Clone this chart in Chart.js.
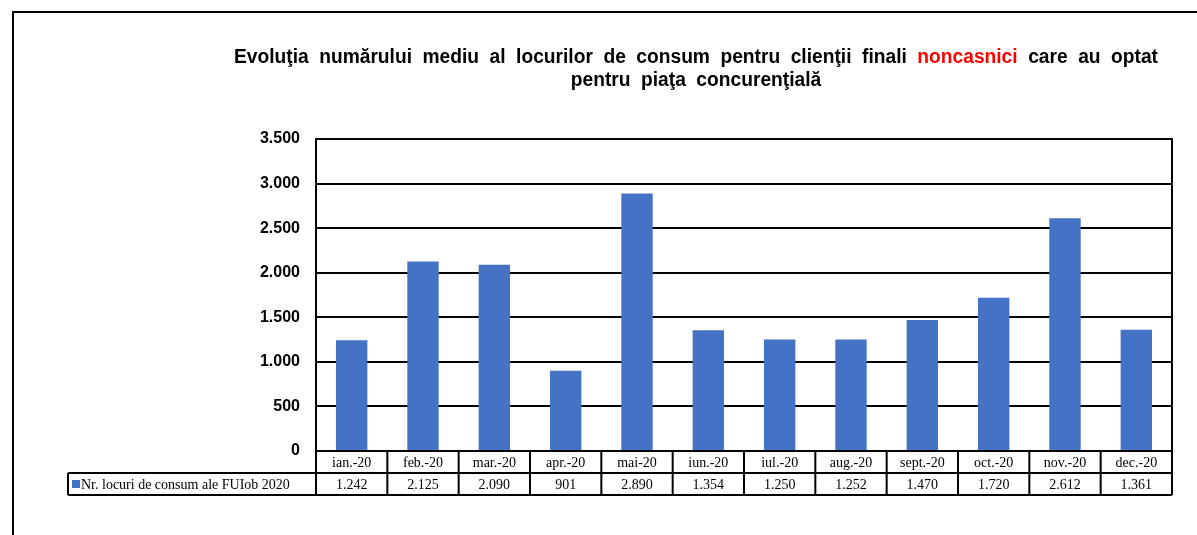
<!DOCTYPE html>
<html>
<head>
<meta charset="utf-8">
<script src="https://cdn.jsdelivr.net/npm/chart.js@4/dist/chart.umd.min.js"></script>
<style>
  html, body { margin: 0; padding: 0; background: #fff; }
  #wrap { width: 1197px; height: 535px; position: relative; }
</style>
</head>
<body>
<div id="wrap"><canvas id="myChart" width="1197" height="535"></canvas></div>
<script>
// data
var months = ['ian.-20', 'feb.-20', 'mar.-20', 'apr.-20', 'mai-20', 'iun.-20', 'iul.-20', 'aug.-20', 'sept.-20', 'oct.-20', 'nov.-20', 'dec.-20'];
var locuri = [1242, 2125, 2090, 901, 2890, 1354, 1250, 1252, 1470, 1720, 2612, 1361];
var seriesName = 'Nr. locuri de consum ale FUIob 2020';
var titleParts = [
  ['Evoluţia numărului mediu al locurilor de consum pentru clienţii finali ', '#000'],
  ['noncasnici', '#ff0000'],
  [' care au optat', '#000']
];
var titleLine2 = 'pentru piaţa concurenţială';

var barColor = '#4472C4';

function fmt(n) {
  return String(n).replace(/\B(?=(\d{3})+(?!\d))/g, '.');
}

// outer frame + title
var framePlugin = {
  id: 'frame',
  beforeDraw: function(chart) {
    var c = chart.ctx;
    c.save();
    c.fillStyle = '#fff';
    c.fillRect(0, 0, chart.width, chart.height);
    c.strokeStyle = '#000';
    c.lineWidth = 2;
    c.beginPath();
    c.moveTo(13, chart.height + 5);
    c.lineTo(13, 12);
    c.lineTo(chart.width + 5, 12);
    c.stroke();

    // title, line 1 with red word, spread to the reference width
    var sx = 0.96;
    c.translate(696, 0);
    c.scale(sx, 1);
    c.font = 'bold 20px "Liberation Sans", Arial, sans-serif';
    c.textBaseline = 'middle';
    c.textAlign = 'left';
    var full = titleParts.map(function(p) { return p[0]; }).join('');
    var spaces = full.split(' ').length - 1;
    var extra = Math.max(0, (924 / sx - c.measureText(full).width) / spaces);
    c.wordSpacing = extra + 'px';
    var total = c.measureText(full).width;
    var x = -total / 2;
    titleParts.forEach(function(p) {
      c.fillStyle = p[1];
      c.fillText(p[0], x, 57);
      x += c.measureText(p[0]).width;
    });
    c.fillStyle = '#000';
    c.textAlign = 'center';
    c.fillText(titleLine2, 0, 80);
    c.restore();
  }
};

// plot border + data table under the axis
var tablePlugin = {
  id: 'dataTable',
  afterDatasetsDraw: function(chart) {
    var c = chart.ctx;
    var a = chart.chartArea;
    var xs = chart.scales.x;
    var n = months.length;
    var w = (a.right - a.left) / n;
    var rowH = 22;
    var legLeft = 68;
    c.save();
    c.strokeStyle = '#000';
    c.lineWidth = 2;
    c.strokeRect(a.left, a.top, a.right - a.left, a.bottom - a.top);

    c.beginPath();
    c.moveTo(a.left, a.bottom + rowH); c.lineTo(a.right, a.bottom + rowH);
    c.moveTo(legLeft, a.bottom + rowH); c.lineTo(legLeft, a.bottom + 2 * rowH);
    c.moveTo(legLeft, a.bottom + 2 * rowH); c.lineTo(a.right, a.bottom + 2 * rowH);
    c.moveTo(legLeft, a.bottom + rowH); c.lineTo(a.left, a.bottom + rowH);
    for (var i = 0; i <= n; i++) {
      var lx = a.left + i * w;
      c.moveTo(lx, a.bottom); c.lineTo(lx, a.bottom + 2 * rowH);
    }
    c.stroke();

    c.font = '14px "Liberation Serif", "Times New Roman", serif';
    c.fillStyle = '#000';
    c.textAlign = 'center';
    c.textBaseline = 'middle';
    months.forEach(function(m, i) {
      var cx = xs.getPixelForValue(i);
      c.fillText(m, cx, a.bottom + rowH / 2 + 1);
      c.fillText(fmt(locuri[i]), cx, a.bottom + rowH * 1.5 + 1);
    });
    c.fillStyle = barColor;
    c.fillRect(72, a.bottom + rowH * 1.5 - 4, 8, 8);
    c.fillStyle = '#000';
    c.textAlign = 'left';
    c.fillText(seriesName, 81, a.bottom + rowH * 1.5 + 1);
    c.restore();
  }
};

var ctx = document.getElementById('myChart');
var config = {
  type: 'bar',
  data: {
    labels: months,
    datasets: [{
      label: seriesName,
      data: locuri,
      backgroundColor: barColor,
      borderWidth: 0,
      barPercentage: 0.44,
      categoryPercentage: 1
    }]
  },
  options: {
    responsive: false,
    animation: false,
    events: [],
    layout: { padding: { left: 0, right: 25, top: 139, bottom: 84 } },
    plugins: {
      legend: { display: false },
      title: { display: false },
      tooltip: { enabled: false }
    },
    scales: {
      x: { display: false },
      y: {
        min: 0,
        max: 3500,
        afterFit: function(s) { s.width = 316; },
        ticks: {
          stepSize: 500,
          padding: 16,
          color: '#000',
          font: { family: '"Liberation Sans", Arial, sans-serif', size: 16, weight: 'bold' },
          callback: function(v) { return fmt(v); }
        },
        grid: { color: '#000', lineWidth: 2, drawTicks: false },
        border: { display: true, color: '#000', width: 2 }
      }
    }
  },
  plugins: [framePlugin, tablePlugin]
};
var myBarChart = new Chart(ctx, config);
</script>
</body>
</html>
